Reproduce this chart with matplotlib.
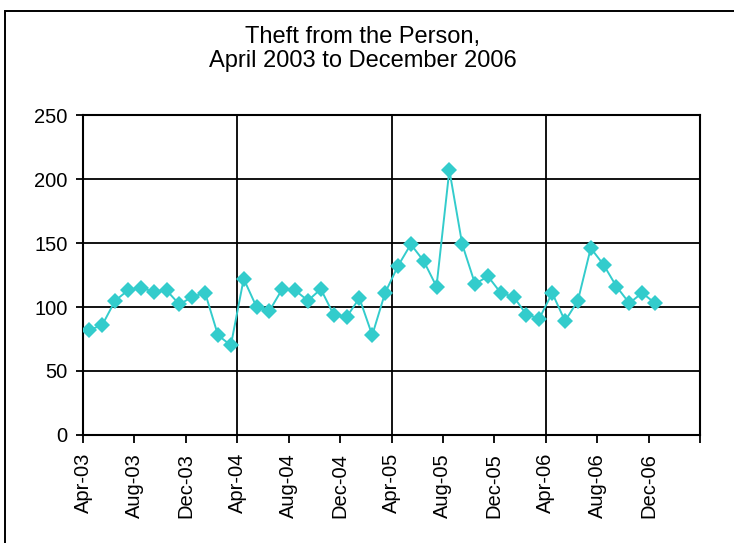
import matplotlib
matplotlib.use("Agg")
from matplotlib import pyplot as plt
from matplotlib.patches import Rectangle

# monthly counts, Apr-03 .. Dec-06
months = ['Apr-03', 'May-03', 'Jun-03', 'Jul-03', 'Aug-03', 'Sep-03', 'Oct-03', 'Nov-03',
          'Dec-03', 'Jan-04', 'Feb-04', 'Mar-04', 'Apr-04', 'May-04', 'Jun-04', 'Jul-04',
          'Aug-04', 'Sep-04', 'Oct-04', 'Nov-04', 'Dec-04', 'Jan-05', 'Feb-05', 'Mar-05',
          'Apr-05', 'May-05', 'Jun-05', 'Jul-05', 'Aug-05', 'Sep-05', 'Oct-05', 'Nov-05',
          'Dec-05', 'Jan-06', 'Feb-06', 'Mar-06', 'Apr-06', 'May-06', 'Jun-06', 'Jul-06',
          'Aug-06', 'Sep-06', 'Oct-06', 'Nov-06', 'Dec-06']
thefts = [82, 86, 105, 113, 115, 112, 113, 102, 108, 111, 78, 70,
          122, 100, 97, 114, 113, 105, 114, 94, 92, 107, 78, 111,
          132, 149, 136, 116, 207, 149, 118, 124, 111, 108, 94, 91,
          111, 89, 105, 146, 133, 116, 103, 111, 103]
tick_labels = ['Apr-03', 'Aug-03', 'Dec-03', 'Apr-04', 'Aug-04', 'Dec-04',
               'Apr-05', 'Aug-05', 'Dec-05', 'Apr-06', 'Aug-06', 'Dec-06', '']

plt.rcParams['font.family'] = ['Liberation Sans', 'DejaVu Sans']

fig = plt.figure(figsize=(7.34, 5.43), dpi=100)
ax = fig.add_axes([0.1131, 0.1989, 0.8406, 0.5893])

# category axis: points sit between the tick marks
xs = [i + 0.5 for i in range(len(months))]
ax.plot(xs, thefts, color='#33CCCC', lw=1.4, marker='D', markersize=8.2,
        markeredgewidth=0, zorder=3)

ax.set_xlim(0, 48)
ax.set_ylim(0, 250)
ax.set_yticks(range(0, 251, 50))
ax.set_xticks(range(0, 49, 4))
ax.set_xticklabels(tick_labels, rotation=90, fontsize=14.5)
ax.tick_params(axis='y', labelsize=14.5, length=5, width=1.3, direction='out', pad=6)
ax.tick_params(axis='x', length=6, width=1.3, direction='out', pad=7)

for v in range(50, 251, 50):
    ax.axhline(v, color='black', lw=1.3, zorder=1)
for m in (12, 24, 36):
    ax.axvline(m, color='black', lw=1.3, zorder=1)
for s in ax.spines.values():
    s.set_linewidth(1.5)

fig.text(0.494, 0.920, 'Theft from the Person,', ha='center', va='baseline', fontsize=17)
fig.text(0.494, 0.877, 'April 2003 to December 2006', ha='center', va='baseline', fontsize=17)

# chart area border (runs off the right and bottom edges)
fig.patches.append(Rectangle((5 / 734, -0.2), 2, 1.2 - 11 / 543, transform=fig.transFigure,
                             fill=False, edgecolor='black', lw=1.4))

plt.savefig("out.png", dpi=100)
